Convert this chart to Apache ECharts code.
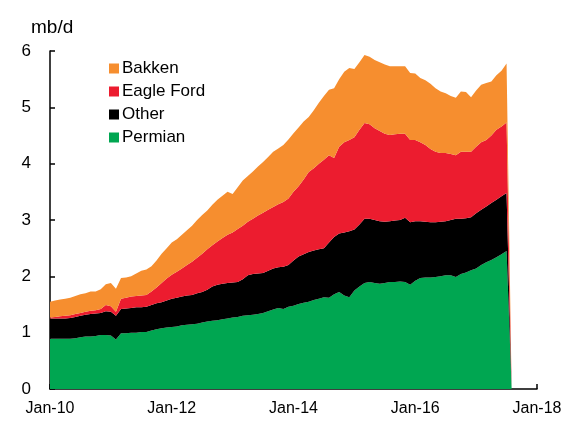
<!DOCTYPE html>
<html>
<head>
<meta charset="utf-8">
<script src="https://cdn.jsdelivr.net/npm/echarts@6/dist/echarts.min.js"></script>
<style>
  html, body { margin: 0; padding: 0; background: #fff; }
  #chart { width: 563px; height: 425px; }
</style>
</head>
<body>
<div id="chart"></div>
<script>
// monthly, Jan-10 .. Aug-17 (mb/d)
const permian = [
  0.89, 0.89, 0.89, 0.89, 0.89, 0.90, 0.92, 0.93, 0.93, 0.94, 0.96, 0.96,
  0.95, 0.88, 0.99, 0.99, 1.00, 1.00, 1.01, 1.01, 1.04, 1.06, 1.08, 1.09,
  1.10, 1.11, 1.13, 1.14, 1.15, 1.16, 1.18, 1.20, 1.21, 1.22, 1.24, 1.25,
  1.27, 1.28, 1.30, 1.31, 1.32, 1.33, 1.35, 1.38, 1.41, 1.44, 1.42, 1.46,
  1.48, 1.51, 1.53, 1.55, 1.58, 1.60, 1.63, 1.62, 1.68, 1.72, 1.66, 1.63,
  1.75, 1.82, 1.88, 1.90, 1.88, 1.87, 1.88, 1.90, 1.90, 1.91, 1.90, 1.85,
  1.92, 1.97, 1.98, 1.98, 1.99, 2.00, 2.02, 2.02, 1.99, 2.04, 2.07, 2.11,
  2.14, 2.20, 2.25, 2.29, 2.34, 2.39, 2.45, 0
];
const other = [
  0.36, 0.36, 0.36, 0.36, 0.37, 0.38, 0.38, 0.39, 0.40, 0.40, 0.39, 0.42,
  0.42, 0.42, 0.43, 0.44, 0.44, 0.45, 0.44, 0.45, 0.45, 0.46, 0.46, 0.48,
  0.50, 0.51, 0.51, 0.52, 0.52, 0.54, 0.54, 0.56, 0.61, 0.63, 0.63, 0.63,
  0.62, 0.62, 0.65, 0.71, 0.72, 0.72, 0.71, 0.72, 0.73, 0.72, 0.75, 0.74,
  0.80, 0.84, 0.86, 0.88, 0.88, 0.88, 0.87, 0.98, 1.02, 1.04, 1.12, 1.17,
  1.08, 1.10, 1.14, 1.12, 1.12, 1.11, 1.09, 1.08, 1.09, 1.09, 1.14, 1.11,
  1.06, 1.01, 0.99, 0.98, 0.97, 0.97, 0.96, 0.98, 1.03, 0.98, 0.96, 0.94,
  0.98, 0.98, 0.99, 1.01, 1.02, 1.03, 1.03, 0
];
const eagleFord = [
  0.02, 0.03, 0.04, 0.05, 0.05, 0.05, 0.05, 0.05, 0.06, 0.06, 0.07, 0.11,
  0.10, 0.07, 0.18, 0.19, 0.20, 0.20, 0.21, 0.21, 0.24, 0.28, 0.34, 0.39,
  0.43, 0.46, 0.50, 0.54, 0.59, 0.63, 0.68, 0.72, 0.73, 0.77, 0.81, 0.86,
  0.89, 0.94, 0.95, 0.95, 0.98, 1.03, 1.07, 1.08, 1.09, 1.12, 1.15, 1.18,
  1.22, 1.25, 1.33, 1.42, 1.46, 1.52, 1.57, 1.55, 1.40, 1.54, 1.60, 1.62,
  1.64, 1.68, 1.70, 1.68, 1.63, 1.60, 1.56, 1.53, 1.53, 1.53, 1.49, 1.46,
  1.44, 1.40, 1.36, 1.30, 1.25, 1.22, 1.21, 1.17, 1.13, 1.19, 1.18, 1.16,
  1.18, 1.20, 1.18, 1.20, 1.24, 1.24, 1.25, 0
];
const bakken = [
  0.28, 0.29, 0.30, 0.30, 0.31, 0.32, 0.33, 0.33, 0.34, 0.33, 0.35, 0.37,
  0.41, 0.41, 0.37, 0.36, 0.36, 0.40, 0.44, 0.45, 0.45, 0.48, 0.52, 0.54,
  0.57, 0.58, 0.60, 0.62, 0.64, 0.67, 0.69, 0.69, 0.72, 0.74, 0.75, 0.76,
  0.68, 0.74, 0.80, 0.81, 0.84, 0.87, 0.90, 0.94, 0.98, 0.99, 1.01, 1.05,
  1.04, 1.04, 1.03, 0.98, 1.03, 1.08, 1.13, 1.16, 1.24, 1.20, 1.25, 1.28,
  1.21, 1.20, 1.21, 1.20, 1.21, 1.22, 1.23, 1.22, 1.21, 1.20, 1.20, 1.19,
  1.18, 1.14, 1.15, 1.16, 1.13, 1.09, 1.06, 1.03, 1.02, 1.07, 1.06, 0.97,
  1.00, 1.02, 1.01, 0.96, 0.97, 0.99, 1.05, 0
];

const monthNames = ['Jan', 'Feb', 'Mar', 'Apr', 'May', 'Jun', 'Jul', 'Aug', 'Sep', 'Oct', 'Nov', 'Dec'];
const categories = [];
for (let y = 10; y <= 18; y++) {
  monthNames.forEach(m => {
    if (y < 18 || m === 'Jan') categories.push(m + '-' + y);
  });
}
const tickLabels = ['Jan-10', 'Jan-12', 'Jan-14', 'Jan-16', 'Jan-18'];

const font = 'Liberation Sans, Arial, sans-serif';

function areaSeries(name, data, color) {
  return {
    name: name,
    type: 'line',
    stack: 'total',
    data: data,
    showSymbol: false,
    symbol: 'none',
    lineStyle: { width: 0 },
    areaStyle: { color: color, opacity: 1 },
    itemStyle: { color: color }
  };
}

const myChart = echarts.init(document.getElementById('chart'));
myChart.setOption({
  animation: false,
  textStyle: { fontFamily: font },
  title: {
    text: 'mb/d',
    left: 26,
    top: 13,
    textStyle: { fontSize: 19, fontWeight: 'normal', color: '#000', fontFamily: font }
  },
  legend: {
    data: ['Bakken', 'Eagle Ford', 'Other', 'Permian'],
    orient: 'vertical',
    left: 104,
    top: 55,
    itemWidth: 10,
    itemHeight: 10,
    itemGap: 6,
    icon: 'rect',
    textStyle: { fontSize: 17, color: '#000', fontFamily: font, padding: [0, 0, 0, -2] }
  },
  grid: {
    left: 50,
    right: 26,
    top: 51,
    bottom: 36,
    outerBoundsMode: 'none'
  },
  xAxis: {
    type: 'category',
    boundaryGap: false,
    data: categories,
    axisLine: { lineStyle: { color: '#000', width: 1.5 } },
    axisTick: {
      inside: true,
      length: 5,
      interval: (i, v) => tickLabels.indexOf(v) >= 0,
      lineStyle: { color: '#000', width: 1.5 }
    },
    axisLabel: {
      interval: (i, v) => tickLabels.indexOf(v) >= 0,
      margin: 12,
      fontSize: 16,
      color: '#000',
      fontFamily: font
    },
    splitLine: { show: false }
  },
  yAxis: {
    type: 'value',
    min: 0,
    max: 6,
    interval: 1,
    axisLine: { show: true, lineStyle: { color: '#000', width: 1.5 } },
    axisTick: { show: true, inside: true, length: 5, lineStyle: { color: '#000', width: 1.5 } },
    axisLabel: { margin: 19, fontSize: 17, color: '#000', fontFamily: font },
    splitLine: { show: false }
  },
  series: [
    areaSeries('Permian', permian, '#00A651'),
    areaSeries('Other', other, '#000000'),
    areaSeries('Eagle Ford', eagleFord, '#EC1C2F'),
    areaSeries('Bakken', bakken, '#F68E2F')
  ]
});
</script>
</body>
</html>
